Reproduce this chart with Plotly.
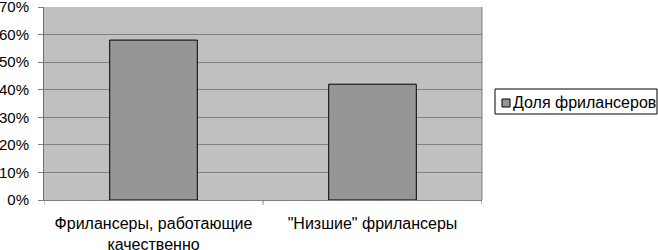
import plotly.graph_objects as go

categories = ["Фрилансеры, работающие<br>качественно", "\"Низшие\" фрилансеры"]
values = [58, 42]
series_name = "Доля фрилансеров"
y_ticks = [0, 10, 20, 30, 40, 50, 60, 70]

W, H = 658, 250
L, R, T, B = 44, 482, 7, 200  # plot area pixels

fig = go.Figure()
fig.add_trace(go.Bar(
    x=[0, 1], y=values, name=series_name,
    marker=dict(color="#969696", line=dict(color="#000000", width=1)),
    width=0.4, showlegend=False,
))

fam = "Liberation Sans, Arial, sans-serif"
font = dict(family=fam, size=16, color="#000000")
fig.update_layout(
    width=W, height=H,
    margin=dict(l=L, r=W - R, t=T, b=H - B, autoexpand=False),
    paper_bgcolor="#ffffff", plot_bgcolor="#c0c0c0",
    font=font,
    showlegend=False,
)
fig.update_xaxes(
    range=[-0.5, 1.5], tickmode="array", tickvals=[0, 1], ticktext=categories,
    showgrid=False, showline=True, linecolor="#808080", linewidth=1,
    ticks="", zeroline=False, automargin=False, ticklabelstandoff=9,
    tickfont=dict(family=fam, size=16, color="#000000"),
)
fig.update_yaxes(
    range=[0, 70], tickmode="array", tickvals=y_ticks,
    ticktext=[f"{v}%" for v in y_ticks],
    showgrid=True, gridcolor="#808080", gridwidth=1,
    showline=True, linecolor="#707070", linewidth=1,
    ticks="outside", ticklen=5, tickcolor="#808080", zeroline=False,
    automargin=False, ticklabelstandoff=6, ticklabeloverflow="allow",
    tickfont=dict(family=fam, size=15, color="#000000"),
)
# right border of plot area
fig.add_shape(type="line", xref="paper", yref="paper", x0=1, x1=1, y0=0, y1=1,
              line=dict(color="#808080", width=1))
# category boundary tick marks on x-axis
for xv in [-0.5, 0.5, 1.5]:
    fig.add_shape(type="line", xref="x", yref="paper", x0=xv, x1=xv, y0=0, y1=-0.025,
                  line=dict(color="#808080", width=1))

# legend drawn manually (compact Excel-style)
def px(x):
    return (x - L) / (R - L)
def py(y):
    return (B - y) / (B - T)

fig.add_shape(type="rect", xref="paper", yref="paper",
              x0=px(495), x1=px(657), y0=py(114), y1=py(89),
              line=dict(color="#000000", width=1), fillcolor="#ffffff")
fig.add_shape(type="rect", xref="paper", yref="paper",
              x0=px(502), x1=px(510), y0=py(107), y1=py(99),
              line=dict(color="#000000", width=1), fillcolor="#969696")
fig.add_annotation(text=series_name, xref="paper", yref="paper",
                   x=px(511), y=py(102), xanchor="left", yanchor="middle",
                   showarrow=False, font=font)
fig.write_html("out.html", config={"displayModeBar": False},
               post_script="document.body.style.margin='0';")
